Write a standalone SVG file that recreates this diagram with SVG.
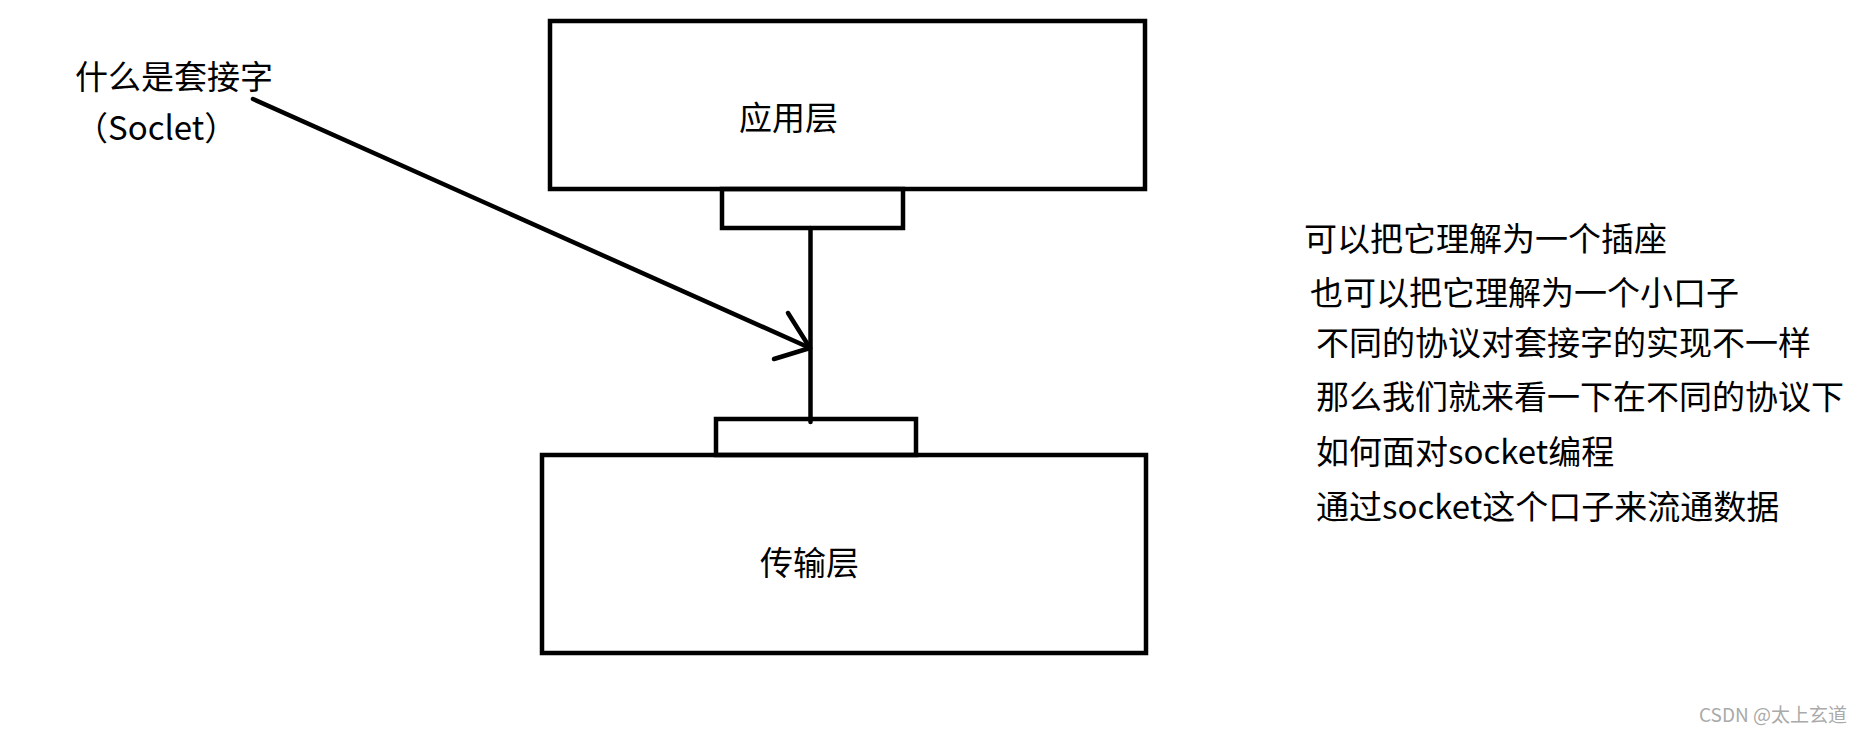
<svg xmlns="http://www.w3.org/2000/svg" width="1863" height="733" viewBox="0 0 1863 733">
<style>
.box{fill:none;stroke:#000;stroke-width:4.5}
.ln{fill:none;stroke:#000;stroke-width:4.5;stroke-linecap:round;stroke-linejoin:round}
.t{font-family:"Noto Sans CJK SC","Noto Sans",sans-serif;font-size:33px;fill:#000}
.wm{font-family:"Noto Sans CJK SC","Noto Sans",sans-serif;font-size:19px;fill:#aaa}
</style>
<rect width="1863" height="733" fill="#fff"/>
<g id="app-layer">
<rect class="box" x="550" y="21" width="595" height="168"/>
<text class="t" x="739" y="130">应用层</text>
</g>
<g id="app-socket">
<rect class="box" x="722" y="189" width="181" height="39"/>
</g>
<g id="transport-socket">
<rect class="box" x="716" y="419" width="200" height="36"/>
</g>
<g id="transport-layer">
<rect class="box" x="542" y="455" width="604" height="198"/>
<text class="t" x="760" y="575">传输层</text>
</g>
<g id="label-socket">
<text class="t" x="75" y="89">什么是套接字</text>
<text class="t" x="75" y="140">（Soclet）</text>
</g>
<g id="notes">
<text class="t" x="1304" y="251">可以把它理解为一个插座</text>
<text class="t" x="1310" y="305">也可以把它理解为一个小口子</text>
<text class="t" x="1316" y="355">不同的协议对套接字的实现不一样</text>
<text class="t" x="1316" y="409">那么我们就来看一下在不同的协议下</text>
<text class="t" x="1316" y="464">如何面对socket编程</text>
<text class="t" x="1316" y="519">通过socket这个口子来流通数据</text>
</g>
<g id="connectors">
<line class="ln" x1="810.5" y1="228" x2="810.5" y2="422"/>
<polyline class="ln" points="253,99 810,348"/>
<polyline class="ln" points="788,313 810,348 774,359"/>
</g>
<text class="wm" x="1847" y="722" text-anchor="end">CSDN @太上玄道</text>
</svg>
